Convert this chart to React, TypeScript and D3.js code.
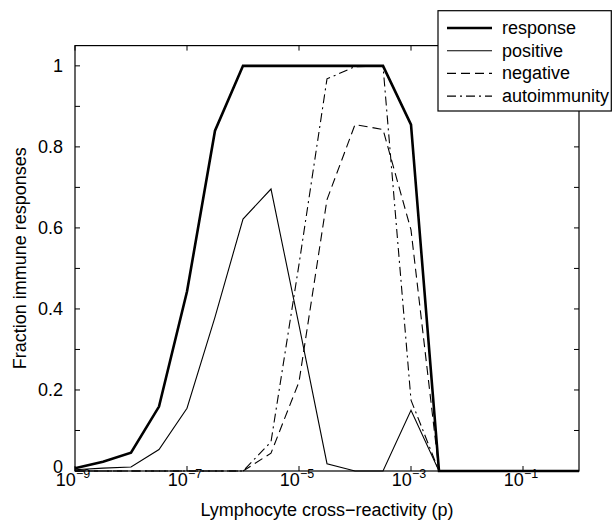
import React from "react";
import * as d3 from "d3";

const exponents = [-9, -8.5, -8, -7.5, -7, -6.5, -6, -5.5, -5, -4.5, -4, -3.5, -3, -2.5, -2, -1.5, -1, -0.5, 0];
const response = [0.007, 0.023, 0.045, 0.159, 0.443, 0.84, 1, 1, 1, 1, 1, 1, 0.855, 0, 0, 0, 0, 0, 0];
const positive = [0.003, 0.007, 0.01, 0.053, 0.155, 0.38, 0.622, 0.696, 0.36, 0.018, 0, 0, 0.15, 0, 0, 0, 0, 0, 0];
const negative = [0, 0, 0, 0, 0, 0, 0, 0.044, 0.22, 0.67, 0.855, 0.843, 0.595, 0, 0, 0, 0, 0, 0];
const autoimmunity = [0, 0, 0, 0, 0, 0, 0, 0.072, 0.51, 0.968, 0.998, 1.0, 0.175, 0, 0, 0, 0, 0, 0];

const xTickExps = [-9, -7, -5, -3, -1];
const yTicks = [0, 0.1, 0.2, 0.3, 0.4, 0.5, 0.6, 0.7, 0.8, 0.9, 1.0];
const yLabels = [0, 0.2, 0.4, 0.6, 0.8, 1];
const seriesNames = ["response", "positive", "negative", "autoimmunity"];

const W = 612, H = 522;
const L = 75, R = 579, T = 45.6, B = 471;
const FONT = "'Liberation Sans', Arial, Helvetica, sans-serif";
const FS = 18;

const styles: Record<string, { w: number; dash?: string }> = {
  response: { w: 2.6 },
  positive: { w: 1.1 },
  negative: { w: 1.1, dash: "9,5" },
  autoimmunity: { w: 1.1, dash: "9,4,2,4" },
};

export default function App() {
  const x = d3.scaleLog().domain([1e-9, 1]).range([L, R]);
  const y = d3.scaleLinear().domain([0, 1.05]).range([B, T]);
  const data: Record<string, number[]> = { response, positive, negative, autoimmunity };
  const line = d3
    .line<[number, number]>()
    .x((d) => x(Math.pow(10, d[0])))
    .y((d) => y(d[1]));

  const tl = 5;
  return (
    <svg width={W} height={H} style={{ position: "absolute", left: 0, top: 0, background: "#fff" }} fontFamily={FONT}>
      <rect x={0} y={0} width={W} height={H} fill="#fff" />
      <defs>
        <clipPath id="pc">
          <rect x={L - 2} y={T - 2} width={R - L + 4} height={B - T + 4} />
        </clipPath>
      </defs>
      {/* series */}
      <g clipPath="url(#pc)">
        {seriesNames.map((n) => (
          <path
            key={n}
            d={line(exponents.map((e, i) => [e, data[n][i]] as [number, number])) || ""}
            fill="none"
            stroke="#000"
            strokeWidth={styles[n].w}
            strokeDasharray={styles[n].dash}
            strokeLinejoin="miter"
          />
        ))}
      </g>
      {/* frame */}
      <rect x={L} y={T} width={R - L} height={B - T} fill="none" stroke="#000" strokeWidth={1.2} />
      {/* ticks */}
      {xTickExps.map((e) => {
        const xx = x(Math.pow(10, e));
        return (
          <g key={e}>
            <line x1={xx} x2={xx} y1={B} y2={B - tl} stroke="#000" strokeWidth={1} />
            <line x1={xx} x2={xx} y1={T} y2={T + tl} stroke="#000" strokeWidth={1} />
            <text x={xx - 2} y={486} fontSize={FS} textAnchor="middle">
              10
              <tspan fontSize={12.5} dy={-8}>{"\u2212" + Math.abs(e)}</tspan>
            </text>
          </g>
        );
      })}
      {yTicks.map((v) => (
        <g key={v}>
          <line x1={L} x2={L + tl} y1={y(v)} y2={y(v)} stroke="#000" strokeWidth={1} />
          <line x1={R} x2={R - tl} y1={y(v)} y2={y(v)} stroke="#000" strokeWidth={1} />
        </g>
      ))}
      {yLabels.map((v) => (
        <text key={v} x={63} y={v === 0 ? y(v) + 2 : y(v) + 6.5} fontSize={FS} textAnchor="end">
          {v === 0 ? "0" : v === 1 ? "1" : v.toFixed(1)}
        </text>
      ))}
      {/* axis labels */}
      <text x={(L + R) / 2} y={516} fontSize={FS} textAnchor="middle">
        Lymphocyte cross{"\u2212"}reactivity (p)
      </text>
      <text transform={`translate(26,${(T + B) / 2}) rotate(-90)`} fontSize={FS} textAnchor="middle">
        Fraction immune responses
      </text>
      {/* legend */}
      <rect x={438} y={10.7} width={173.3} height={100.3} fill="#fff" stroke="#000" strokeWidth={1.2} />
      {seriesNames.map((n, i) => {
        const cy = 28 + i * 22.7;
        return (
          <g key={n}>
            <line x1={447} x2={492} y1={cy} y2={cy} stroke="#000" strokeWidth={styles[n].w} strokeDasharray={styles[n].dash} />
            <text x={502} y={cy + 6} fontSize={FS}>
              {n}
            </text>
          </g>
        );
      })}
    </svg>
  );
}
